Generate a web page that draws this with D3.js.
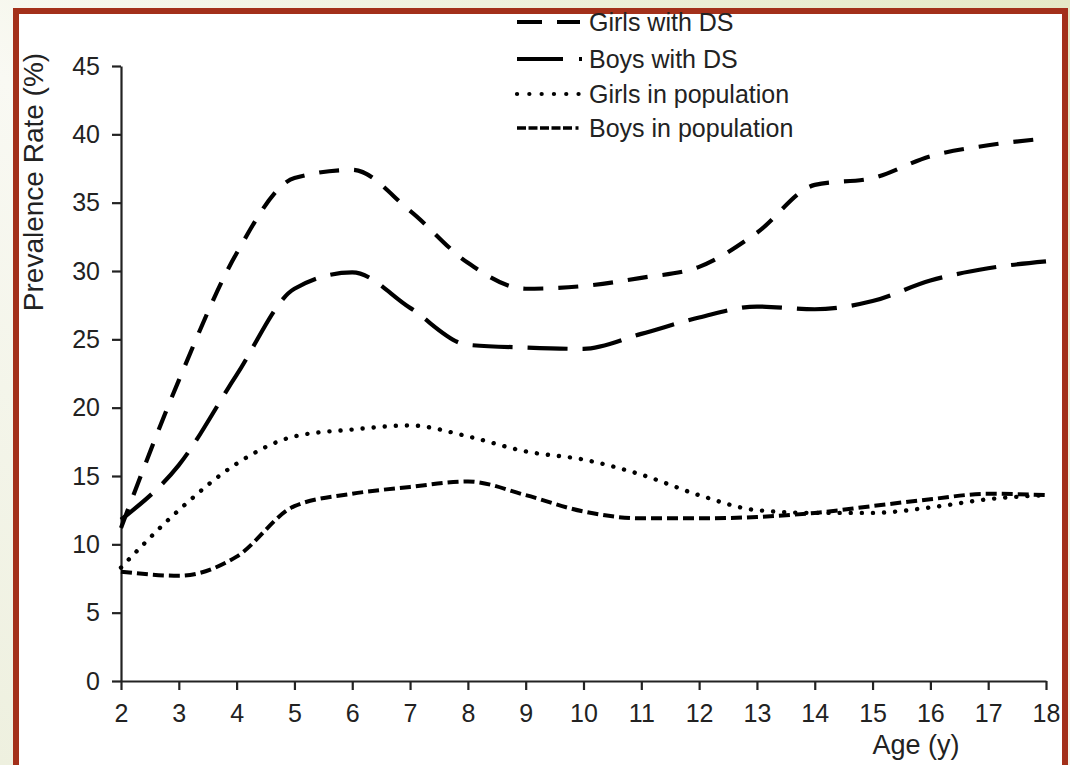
<!DOCTYPE html>
<html>
<head>
<meta charset="utf-8">
<script src="https://cdn.jsdelivr.net/npm/d3@7"></script>
<style>
  html, body { margin: 0; padding: 0; }
  body { width: 1070px; height: 765px; overflow: hidden; }
  svg { display: block; font-family: "Liberation Sans", Arial, sans-serif; }
</style>
</head>
<body>
<svg id="chart" width="1070" height="765"></svg>
<script>
// Ages on the x axis
const ages = [2, 3, 4, 5, 6, 7, 8, 9, 10, 11, 12, 13, 14, 15, 16, 17, 18];

// Prevalence rate (%) per age
const girlsDS  = [11.2, 22.0, 31.3, 36.8, 37.4, 34.4, 30.6, 28.7, 28.9, 29.5, 30.3, 32.8, 36.3, 36.8, 38.4, 39.2, 39.7];
const boysDS   = [11.8, 15.8, 22.4, 28.7, 29.9, 27.3, 24.6, 24.4, 24.3, 25.4, 26.6, 27.4, 27.2, 27.8, 29.3, 30.2, 30.7];
const girlsPop = [8.3, 12.5, 15.9, 17.9, 18.4, 18.7, 17.9, 16.8, 16.2, 15.1, 13.6, 12.5, 12.3, 12.3, 12.7, 13.3, 13.6];
const boysPop  = [8.0, 7.7, 9.1, 12.8, 13.7, 14.2, 14.6, 13.6, 12.4, 11.9, 11.9, 12.0, 12.3, 12.8, 13.3, 13.7, 13.6];

// Series names, in legend order
const seriesNames = ["Girls with DS", "Boys with DS", "Girls in population", "Boys in population"];

// Axis ticks
const yTicks = [0, 5, 10, 15, 20, 25, 30, 35, 40, 45];
const xTicks = ages;

const svg = d3.select("#chart");

// Page backdrop and framed panel
const defs = svg.append("defs");
const grad = defs.append("linearGradient").attr("id", "bg")
  .attr("x1", "0").attr("y1", "1").attr("x2", "1").attr("y2", "0");
grad.append("stop").attr("offset", "0%").attr("stop-color", "#eef0df");
grad.append("stop").attr("offset", "45%").attr("stop-color", "#f9f9f3");
grad.append("stop").attr("offset", "100%").attr("stop-color", "#e5e9c6");
svg.append("rect").attr("width", 1070).attr("height", 765).attr("fill", "url(#bg)");
svg.append("rect")
  .attr("x", 16).attr("y", 11).attr("width", 1049).attr("height", 820)
  .attr("fill", "#ffffff").attr("stroke", "#a3301a").attr("stroke-width", 6);

// Scales
const x = d3.scaleLinear().domain([2, 18]).range([121, 1046]);
const y = d3.scaleLinear().domain([0, 45]).range([681, 66]);

const ink = "#222";

// Y axis
const gy = svg.append("g").attr("transform", `translate(${x(2)},0)`)
  .call(d3.axisLeft(y).tickValues(yTicks).tickSize(9).tickSizeOuter(0).tickPadding(12));
// X axis
const gx = svg.append("g").attr("transform", `translate(0,${y(0)})`)
  .call(d3.axisBottom(x).tickValues(xTicks).tickSize(9).tickSizeOuter(0).tickPadding(14));

[gy, gx].forEach(g => {
  g.selectAll("path.domain").attr("stroke", ink).attr("stroke-width", 2.2);
  g.selectAll(".tick line").attr("stroke", ink).attr("stroke-width", 2.2);
  g.selectAll(".tick text").attr("fill", ink)
    .style("font-family", "'Liberation Sans', Arial, sans-serif").style("font-size", "25px");
});

// Axis titles
svg.append("text")
  .attr("transform", "translate(43,182) rotate(-90)")
  .attr("text-anchor", "middle").attr("fill", ink)
  .style("font-size", "28px")
  .text("Prevalence Rate (%)");
svg.append("text")
  .attr("x", 916).attr("y", 754)
  .attr("text-anchor", "middle").attr("fill", ink)
  .style("font-size", "27px")
  .text("Age (y)");

// Line styles per series
const styles = [
  { values: girlsDS,  dash: "20,15",  width: 4.2, cap: "butt" },
  { values: boysDS,   dash: "40,15",  width: 4.2, cap: "butt" },
  { values: girlsPop, dash: "0.1,11", width: 4.4, cap: "round" },
  { values: boysPop,  dash: "11,5",   width: 4,   cap: "butt" }
];

const line = d3.line()
  .x(d => x(d.age))
  .y(d => y(d.v))
  .curve(d3.curveMonotoneX);

const plot = svg.append("g");
styles.forEach(s => {
  const pts = ages.map((a, i) => ({ age: a, v: s.values[i] }));
  plot.append("path")
    .datum(pts)
    .attr("d", line)
    .attr("fill", "none")
    .attr("stroke", "#000")
    .attr("stroke-width", s.width)
    .attr("stroke-dasharray", s.dash)
    .attr("stroke-linecap", s.cap)
    .attr("stroke-linejoin", "round");
});

// Legend
const legendRows = [
  { name: seriesNames[0], base: 31,  dash: "25,15",          x2: 580, width: 4.2, cap: "butt" },
  { name: seriesNames[1], base: 68,  dash: "46,16,3,100",    x2: 582, width: 4.2, cap: "butt" },
  { name: seriesNames[2], base: 103, dash: "0.1,12.2",       x2: 580, width: 4.2, cap: "round" },
  { name: seriesNames[3], base: 137, dash: "9,2.5,9,2.5,9,2.5,9,2.5,9,3.5,3,100", x2: 584, width: 3.6, cap: "butt" }
];
const legend = svg.append("g");
legendRows.forEach(r => {
  legend.append("line")
    .attr("x1", 517).attr("x2", r.x2)
    .attr("y1", r.base - 9).attr("y2", r.base - 9)
    .attr("stroke", "#000").attr("stroke-width", r.width)
    .attr("stroke-dasharray", r.dash).attr("stroke-linecap", r.cap);
  legend.append("text")
    .attr("x", 589).attr("y", r.base)
    .attr("fill", ink).style("font-size", "25px")
    .text(r.name);
});
</script>
</body>
</html>
